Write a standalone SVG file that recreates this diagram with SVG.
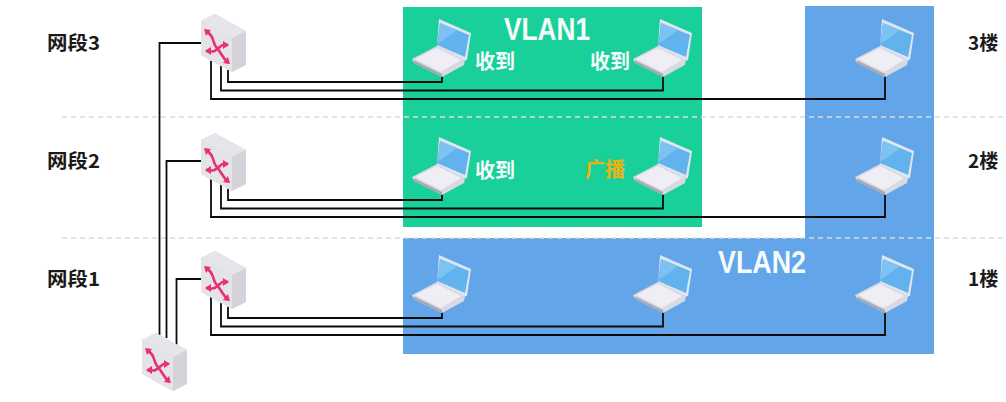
<svg xmlns="http://www.w3.org/2000/svg" width="1006" height="402" viewBox="0 0 1006 402">
<style>
.lbl{font-family:"Noto Sans CJK SC","Liberation Sans",sans-serif;font-weight:700;font-size:19px;fill:#1a1a1a}
.rx{font-family:"Noto Sans CJK SC","Liberation Sans",sans-serif;font-weight:700;font-size:20px;fill:#f4fbfa}
.vl{font-family:"Liberation Sans",sans-serif;font-weight:700;font-size:31px;fill:#f4fbfa}
.c{fill:none;stroke:#0a0a0a;stroke-width:1.8}
.d{fill:none;stroke:#dcdcdc;stroke-width:1.3;stroke-dasharray:5 4}
.a{fill:none;stroke:#e8316f;stroke-width:2.6}
.h{fill:#e8316f}
</style>
<defs>
<g id="sw">
<polygon points="0,7 14,0 45,17 45,51 31,58 0,41" fill="#d3d3d9"/>
<polygon points="0,7 14,0 45,17 31,24" fill="#e6e6ea"/>
<polygon points="0,7 31,24 31,58 0,41" fill="#e3e3e8"/>
<path class="a" d="M6,18C14,22 11,30 16,34C20,39 22,44 27,49"/>
<path class="a" d="M27,31C20,29 19,34 15,36C12,39 9,37 5,37"/>
<polygon class="h" points="3,15 10,16 5,22"/>
<polygon class="h" points="29,50 22,49 27,43"/>
<polygon class="h" points="28,31 22,27 22,35"/>
<polygon class="h" points="4,37 10,33 10,41"/>
</g>
<g id="pc">
<polygon points="27,0 59,14 55,41 50,42 25,28" fill="#dfe6f0"/>
<polygon points="28,4 57,16 53,38 25,26" fill="#62b2ee"/>
<polygon points="28,4 45,11 30,22 26,24" fill="#7cc3f3"/>
<polygon points="0,40 25,27 53,41 52,46 30,58 2,44" fill="#d9d9e3"/>
<polygon points="3,40 25,29 49,41 29,53" fill="#eeeef4"/>
<polygon points="2,44 30,58 30,55 2,41.500" fill="#a8a8b4"/>
</g>
</defs>
<g id="zones">
<rect x="805" y="6" width="129" height="240" fill="#62a5e8"/>
<rect x="403" y="7" width="299" height="220" fill="#19d09b"/>
<rect x="403" y="238" width="531" height="116" fill="#62a5e8"/>
<line class="d" x1="62" y1="117" x2="1003" y2="117"/>
<line class="d" x1="62" y1="238" x2="1003" y2="238"/>
</g>
<g id="connectors">
<path class="c" d="M201,43H159.500V335"/>
<path class="c" d="M201,161H166.500V338"/>
<path class="c" d="M201,279H176.500V346"/>
<path class="c" d="M228,70V82H442V76"/>
<path class="c" d="M221,66V90.500H663V76"/>
<path class="c" d="M211,61V99H885V76"/>
<path class="c" d="M228,188V200H442V194"/>
<path class="c" d="M221,184V208.500H663V194"/>
<path class="c" d="M211,179V217H885V194"/>
<path class="c" d="M228,306V318H442V312"/>
<path class="c" d="M221,302V326.500H663V312"/>
<path class="c" d="M211,297V335H885V312"/>
</g>
<g id="switch-3"><use href="#sw" x="201" y="14"/></g>
<g id="switch-2"><use href="#sw" x="201" y="133"/></g>
<g id="switch-1"><use href="#sw" x="201" y="251"/></g>
<g id="switch-core"><use href="#sw" x="142" y="333"/></g>
<g id="pc-3a"><use href="#pc" x="412" y="19"/></g>
<g id="pc-3b"><use href="#pc" x="633" y="19"/></g>
<g id="pc-3c"><use href="#pc" x="855" y="19"/></g>
<g id="pc-2a"><use href="#pc" x="412" y="137"/></g>
<g id="pc-2b"><use href="#pc" x="633" y="137"/></g>
<g id="pc-2c"><use href="#pc" x="855" y="137"/></g>
<g id="pc-1a"><use href="#pc" x="412" y="255"/></g>
<g id="pc-1b"><use href="#pc" x="633" y="255"/></g>
<g id="pc-1c"><use href="#pc" x="855" y="255"/></g>
<g id="labels">
<text class="lbl" x="47" y="50" textLength="53" lengthAdjust="spacingAndGlyphs">网段3</text>
<text class="lbl" x="47" y="168" textLength="53" lengthAdjust="spacingAndGlyphs">网段2</text>
<text class="lbl" x="47" y="286" textLength="53" lengthAdjust="spacingAndGlyphs">网段1</text>
<text class="lbl" x="968" y="50">3楼</text>
<text class="lbl" x="968" y="168">2楼</text>
<text class="lbl" x="968" y="286">1楼</text>
<text class="vl" x="504" y="40" textLength="86" lengthAdjust="spacingAndGlyphs">VLAN1</text>
<text class="vl" x="718" y="273" textLength="88" lengthAdjust="spacingAndGlyphs">VLAN2</text>
<text class="rx" x="475" y="69">收到</text>
<text class="rx" x="590" y="69">收到</text>
<text class="rx" x="475" y="178">收到</text>
<text class="rx" x="585" y="177" style="fill:#f2b010">广播</text>
</g>
</svg>
